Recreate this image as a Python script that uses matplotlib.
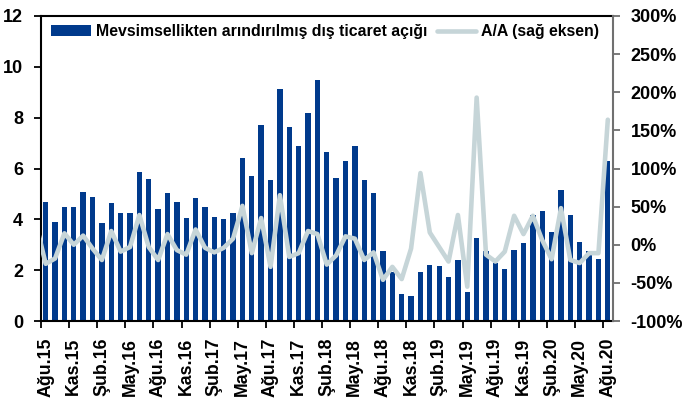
import matplotlib
matplotlib.use("Agg")
import matplotlib.pyplot as plt
import numpy as np

plt.rcParams['font.family'] = ['Liberation Sans', 'DejaVu Sans']
plt.rcParams['font.weight'] = 'bold'

# Data (monthly, Ağu.15 .. Ağu.20)
tick_labels = ["Ağu.15", "Kas.15", "Şub.16", "May.16", "Ağu.16", "Kas.16", "Şub.17",
               "May.17", "Ağu.17", "Kas.17", "Şub.18", "May.18", "Ağu.18", "Kas.18",
               "Şub.19", "May.19", "Ağu.19", "Kas.19", "Şub.20", "May.20", "Ağu.20"]

deficit = [4.69, 3.91, 4.47, 4.47, 5.06, 4.88, 3.87, 4.63, 4.25, 4.25,
           5.85, 5.59, 4.42, 5.04, 4.69, 4.05, 4.84, 4.50, 4.09, 4.01,
           4.24, 6.41, 5.72, 7.72, 5.55, 9.14, 7.62, 6.90, 8.17, 9.48,
           6.66, 5.63, 6.31, 6.90, 5.55, 5.02, 2.74, 1.94, 1.06, 0.99,
           1.92, 2.22, 2.18, 1.74, 2.41, 1.13, 3.28, 2.75, 2.28, 2.03,
           2.79, 3.05, 4.17, 4.33, 3.50, 5.15, 4.17, 3.12, 2.75, 2.43, 6.31]

# month-on-month change (%), preceded by Tem.15 value (clipped at the axis edge)
mom_prev = 26
mom = [-25, -18, 15, 0, 12, -5, -20, 18, -9, -3,
       39, -3, -20, 14, -7, -13, 20, -4, -10, -4,
       8, 51, -11, 35, -29, 65, -16, -11, 18, 14,
       -26, -14, 11, 8, -20, -10, -46, -29, -45, -5,
       94, 16, -3, -22, 39, -55, 193, -13, -22, -9,
       38, 14, 38, 6, -19, 48, -20, -24, -11, -11, 164]

bar_label = "Mevsimsellikten arındırılmış dış ticaret açığı"
line_label = "A/A (sağ eksen)"

bar_color = "#003A8C"
line_color = "#C6D5D8"

n = len(deficit)
x = np.arange(n)

fig = plt.figure(figsize=(6.83, 4.0), dpi=100)
ax = fig.add_axes([41/683, 1-321/400, (612.5-41)/683, (321-16)/400])
ax2 = ax.twinx()

bars = ax.bar(x, deficit, width=0.57, color=bar_color, zorder=2, label=bar_label)
xl = np.concatenate([[-1], x])
yl = np.concatenate([[mom_prev], mom])
line, = ax2.plot(xl, yl, color=line_color, lw=3.3, solid_joinstyle='round',
                 solid_capstyle='round', label=line_label, zorder=3)

ax.set_xlim(-0.5, n - 0.5)
ax.set_ylim(0, 12)
ax2.set_ylim(-100, 300)

ax.set_yticks(np.arange(0, 13, 2))
ax2.set_yticks(np.arange(-100, 301, 50))
ax2.set_yticklabels([f"{v}%" for v in range(-100, 301, 50)])

ax.set_xticks(np.arange(0, n, 3))
ax.set_xticklabels(tick_labels, rotation=90)
ax.set_xticks(np.arange(-0.5, n, 3), minor=True)

ax.tick_params(axis='x', which='major', length=0, pad=12, labelsize=12.8)
ax.tick_params(axis='x', which='minor', length=5, width=1.3, direction='out', color='black')
ax.tick_params(axis='y', length=5, width=1.3, direction='out', pad=8, labelsize=13)
ax2.tick_params(axis='y', length=5, width=1.3, direction='out', pad=8, labelsize=13,
                color='#707070')

for sp in ['left', 'bottom', 'top']:
    ax.spines[sp].set_color('black')
    ax.spines[sp].set_linewidth(1.5)
ax.spines['right'].set_visible(False)
for sp in ['left', 'bottom', 'top']:
    ax2.spines[sp].set_visible(False)
ax2.spines['right'].set_color('#707070')
ax2.spines['right'].set_linewidth(1.5)

ax2.legend([bars, line], [bar_label, line_label], loc='upper left',
           bbox_to_anchor=(0.066, 0.955), bbox_transform=fig.transFigure,
           ncol=2, frameon=False, fontsize=11.4, handlelength=2.5,
           handleheight=0.65, columnspacing=0.6, handletextpad=0.3,
           borderaxespad=0)

fig.savefig("out.png", dpi=100)
